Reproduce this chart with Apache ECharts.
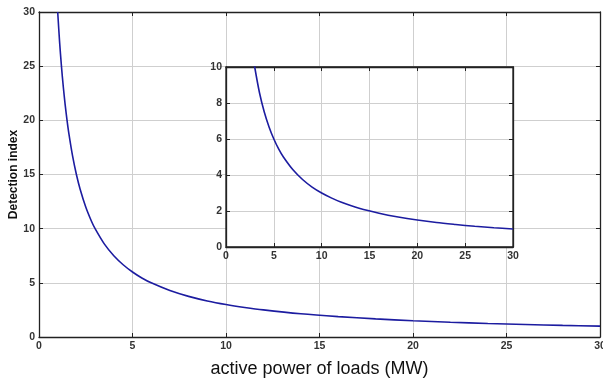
<!DOCTYPE html>
<html><head><meta charset="utf-8">
<script src="https://cdn.jsdelivr.net/npm/echarts@6/dist/echarts.min.js"></script>
<style>html,body{margin:0;padding:0;background:#fff}#c{width:603px;height:383px}</style>
</head><body><div id="c"></div>
<script>
// values
const loadMW = [1, 1.1, 1.2, 1.3, 1.4, 1.5, 1.6, 1.8, 2, 2.2, 2.5, 2.8, 3, 3.5, 4, 4.5, 5, 5.5, 6, 7, 8, 9, 10, 11, 12, 14, 16, 18, 20, 22, 24, 26, 28, 30];
const detectionIndex = [30, 27.27, 25, 23.08, 21.43, 20, 18.75, 16.67, 15, 13.64, 12, 10.71, 10, 8.57, 7.5, 6.67, 6, 5.45, 5, 4.29, 3.75, 3.33, 3, 2.73, 2.5, 2.14, 1.88, 1.67, 1.5, 1.36, 1.25, 1.15, 1.07, 1];
const mainXTicks = [0, 5, 10, 15, 20, 25, 30];
const mainYTicks = [0, 5, 10, 15, 20, 25, 30];
const insetYTicks = [0, 2, 4, 6, 8, 10];

const pts = loadMW.map((x, i) => [x, detectionIndex[i]]);
const lbl = {fontFamily: 'Liberation Sans, Arial', fontWeight: 'bold', fontSize: 10.5, color: '#333'};
const axLine = {show: true, onZero: false, lineStyle: {color: '#222', width: 1.3}};
const grid = {show: true, lineStyle: {color: '#cfcfcf', width: 1}};

function xAx(gi, pos, labels, z) {
  return {type: 'value', gridIndex: gi, position: pos, min: 0, max: 30, interval: 5, z: z,
    axisLine: axLine, axisTick: {show: true, inside: true, length: 4, lineStyle: {color: '#222'}},
    axisLabel: Object.assign({show: labels, margin: 4}, lbl),
    splitLine: Object.assign({}, grid, {show: labels})};
}
function yAx(gi, pos, max, interval, labels, z) {
  return {type: 'value', gridIndex: gi, position: pos, min: 0, max: max, interval: interval, z: z,
    axisLine: axLine, axisTick: {show: true, inside: true, length: 4, lineStyle: {color: '#222'}},
    axisLabel: Object.assign({show: labels, margin: 4}, lbl),
    splitLine: Object.assign({}, grid, {show: labels})};
}
const xa0 = xAx(0, 'bottom', true, 1);
xa0.name = 'active power of loads (MW)';
xa0.nameLocation = 'middle';
xa0.nameGap = 23;
xa0.nameMoveOverlap = false;
xa0.nameTextStyle = {fontFamily: 'Liberation Sans, Arial', fontSize: 18, color: '#111'};
const ya0 = yAx(0, 'left', 30, 5, true, 1);
ya0.name = 'Detection index';
ya0.nameLocation = 'middle';
ya0.nameGap = 19;
ya0.nameMoveOverlap = false;
ya0.nameTextStyle = {fontFamily: 'Liberation Sans, Arial', fontWeight: 'bold', fontSize: 12, color: '#111'};

const chart = echarts.init(document.getElementById('c'));
chart.setOption({
  animation: false,
  backgroundColor: '#fff',
  grid: [
    {left: 39, top: 12, width: 561, height: 325, show: false, z: 0, containLabel: false, outerBoundsMode: 'none'},
    {left: 226, top: 67, width: 287, height: 180, show: true, backgroundColor: '#fff', borderColor: '#222', borderWidth: 1.3, z: 10, containLabel: false, outerBoundsMode: 'none'}
  ],
  xAxis: [xa0, xAx(0, 'top', false, 1), xAx(1, 'bottom', true, 11), xAx(1, 'top', false, 11)],
  yAxis: [ya0, yAx(0, 'right', 30, 5, false, 1), yAx(1, 'left', 10, 2, true, 11), yAx(1, 'right', 10, 2, false, 11)],
  series: [
    {type: 'line', xAxisIndex: 0, yAxisIndex: 0, data: pts, smooth: 0.3, showSymbol: false, z: 3,
      lineStyle: {color: '#1c1ca0', width: 1.6}},
    {type: 'line', xAxisIndex: 2, yAxisIndex: 2, data: pts, smooth: 0.3, showSymbol: false, z: 13, clip: true,
      lineStyle: {color: '#1c1ca0', width: 1.6}}
  ]
});
</script></body></html>
